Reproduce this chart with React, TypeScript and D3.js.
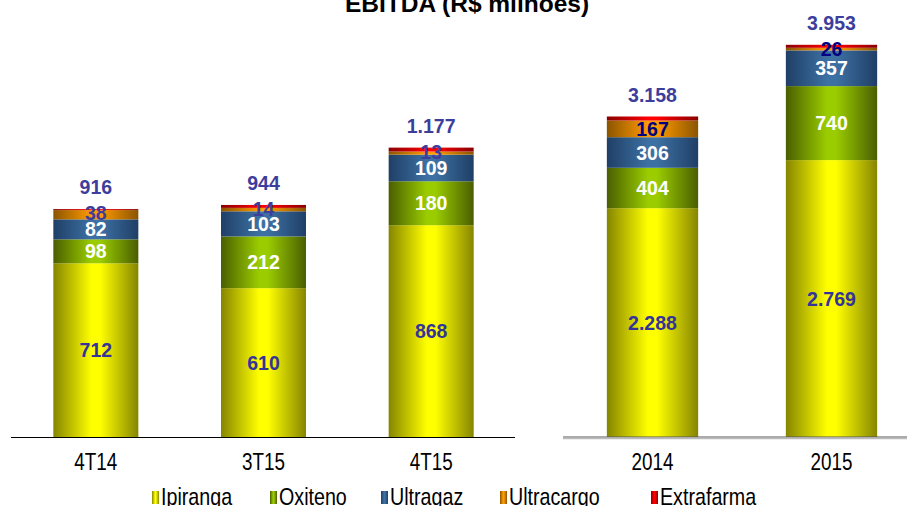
import React from "react";
import * as d3 from "d3";

const quarters = ["4T14", "3T15", "4T15"];
const qIpiranga = [712, 610, 868];
const qOxiteno = [98, 212, 180];
const qUltragaz = [82, 103, 109];
const qUltracargo = [38, 14, 13];
const qExtrafarma = [4, 12, 16];
const qTotal = ["916", "944", "1.177"];

const years = ["2014", "2015"];
const yIpiranga = [2288, 2769];
const yOxiteno = [404, 740];
const yUltragaz = [306, 357];
const yUltracargo = [167, 26];
const yExtrafarma = [40, 30];
const yTotal = ["3.158", "3.953"];

const seriesNames = ["Ipiranga", "Oxiteno", "Ultragaz", "Ultracargo", "Extrafarma"];

const W = 907;
const H = 506;
const BASE = 437;

const grads: Record<string, [string, string]> = {
  Ipiranga: ["#858500", "#ffff00"],
  Oxiteno: ["#4a5e00", "#9acc00"],
  Ultragaz: ["#1f3f66", "#3d70a3"],
  Ultracargo: ["#8a5500", "#ff9a00"],
  Extrafarma: ["#880000", "#ff0000"],
};

const fmt = (v: number) => d3.format(",")(v).replace(/,/g, ".");

const FONT = "'Liberation Sans', Arial, sans-serif";
const TOTAL_COLOR = "#3d3d9c";
const NARROW_SCALE = 0.82;

function Narrow({ x, y, size, anchor, children }: { x: number; y: number; size: number; anchor?: string; children: any }) {
  return (
    <text
      transform={`translate(${x},${y}) scale(${NARROW_SCALE},1)`}
      textAnchor={anchor || "start"}
      fontFamily={FONT}
      fontSize={size}
      fill="#000"
    >
      {children}
    </text>
  );
}

function Panel({
  cats,
  data,
  totals,
  x,
  y,
  orangeColor,
}: {
  cats: string[];
  data: number[][];
  totals: string[];
  x: d3.ScaleBand<string>;
  y: d3.ScaleLinear<number, number>;
  orangeColor: string;
}) {
  const rows = cats.map((c, i) => {
    const o: any = { cat: c };
    seriesNames.forEach((s, k) => (o[s] = data[k][i]));
    return o;
  });
  const stack = d3.stack().keys(seriesNames)(rows);
  const labelColors = ["#333399", "#ffffff", "#ffffff", orangeColor, "none"];
  return (
    <g>
      {stack.map((layer) => (
        <g key={layer.key}>
          {layer.map((d, i) => (
            <rect
              key={i}
              x={x(cats[i])}
              width={x.bandwidth()}
              y={y(d[1])}
              height={Math.max(0, y(d[0]) - y(d[1]))}
              fill={`url(#g-${layer.key})`}
            />
          ))}
        </g>
      ))}
      {stack.map((layer, k) =>
        k === 4
          ? null
          : layer.map((d, i) => {
              const h = y(d[0]) - y(d[1]);
              const top = y(stack[4][i][1]);
              const cy = h < 14 ? top + 4 : (y(d[0]) + y(d[1])) / 2;
              return (
                <text
                  key={layer.key + i}
                  x={(x(cats[i]) as number) + x.bandwidth() / 2}
                  y={cy}
                  dy="0.36em"
                  textAnchor="middle"
                  fontFamily={FONT}
                  fontWeight="bold"
                  fontSize={19.5}
                  fill={labelColors[k]}
                >
                  {fmt(data[k][i])}
                </text>
              );
            })
      )}
      {cats.map((c, i) => (
        <text
          key={"t" + c}
          x={(x(c) as number) + x.bandwidth() / 2}
          y={y(stack[4][i][1]) - 22}
          dy="0.36em"
          textAnchor="middle"
          fontFamily={FONT}
          fontWeight="bold"
          fontSize={19.5}
          fill={TOTAL_COLOR}
        >
          {totals[i]}
        </text>
      ))}
      {cats.map((c) => (
        <Narrow key={"c" + c} x={(x(c) as number) + x.bandwidth() / 2} y={470} size={23} anchor="middle">
          {c}
        </Narrow>
      ))}
    </g>
  );
}

export default function App() {
  const xL = d3.scaleBand<string>().domain(quarters).range([12, 515]).paddingInner(0.493).paddingOuter(0.2465);
  const yL = d3.scaleLinear().domain([0, 1700]).range([BASE, BASE - 1700 * 0.244]);
  const xR = d3.scaleBand<string>().domain(years).range([563, 921]).paddingInner(0.49).paddingOuter(0.245);
  const yR = d3.scaleLinear().domain([0, 4160]).range([BASE, BASE - 416]);

  const legendX = [152, 270, 381, 500, 651];

  return (
    <svg width={W} height={H} style={{ position: "absolute", left: 0, top: 0, background: "#fff" }}>
      <defs>
        {seriesNames.map((s) => (
          <linearGradient key={s} id={`g-${s}`} x1="0" x2="1" y1="0" y2="0">
            <stop offset="0" stopColor={grads[s][0]} />
            <stop offset="0.45" stopColor={grads[s][1]} />
            <stop offset="0.55" stopColor={grads[s][1]} />
            <stop offset="1" stopColor={grads[s][0]} />
          </linearGradient>
        ))}
      </defs>
      <rect width={W} height={H} fill="#fff" />
      <text x={467} y={12} textAnchor="middle" fontFamily={FONT} fontWeight="bold" fontSize={24.5} fill="#000">
        EBITDA (R$ milhões)
      </text>
      <Panel
        cats={quarters}
        data={[qIpiranga, qOxiteno, qUltragaz, qUltracargo, qExtrafarma]}
        totals={qTotal}
        x={xL}
        y={yL}
        orangeColor={TOTAL_COLOR}
      />
      <Panel
        cats={years}
        data={[yIpiranga, yOxiteno, yUltragaz, yUltracargo, yExtrafarma]}
        totals={yTotal}
        x={xR}
        y={yR}
        orangeColor="#000080"
      />
      <line x1={11} x2={515} y1={437.5} y2={437.5} stroke="#000" strokeWidth={1} />
      <line x1={563} x2={907} y1={437} y2={437} stroke="#555" strokeWidth={1} />
      <line x1={563} x2={907} y1={438.5} y2={438.5} stroke="#bbb" strokeWidth={1.5} />
      {seriesNames.map((s, i) => (
        <g key={s}>
          <rect x={legendX[i]} y={491} width={7} height={13} fill={`url(#g-${s})`} />
          <Narrow x={legendX[i] + 9} y={505} size={24}>
            {s}
          </Narrow>
        </g>
      ))}
    </svg>
  );
}
